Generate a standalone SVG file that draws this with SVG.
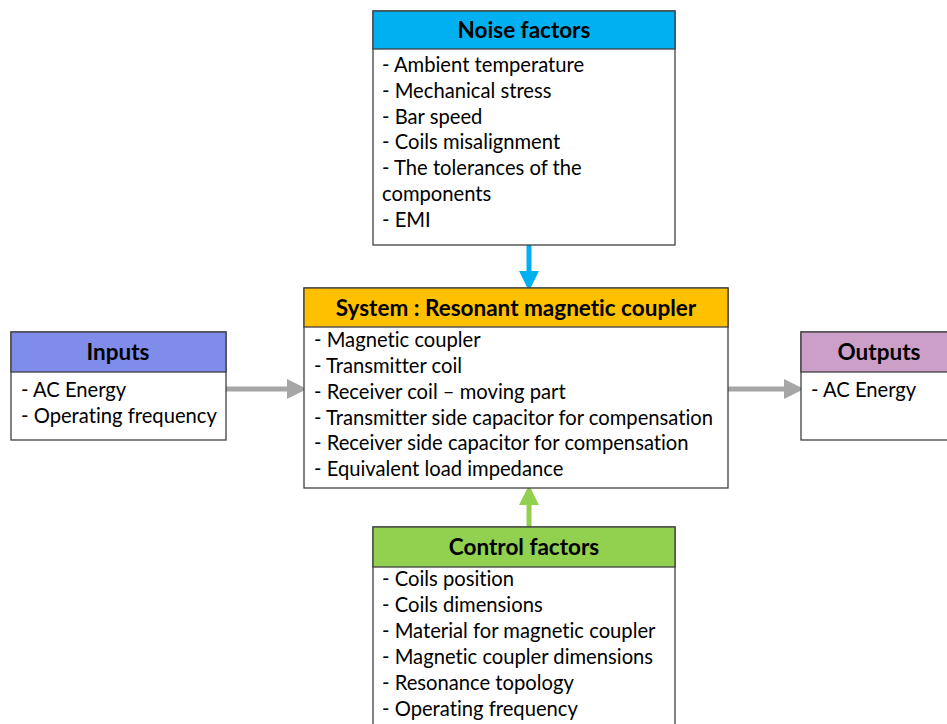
<svg xmlns="http://www.w3.org/2000/svg" width="947" height="724" viewBox="0 0 947 724">
<style>
.box{fill:#fff;stroke:#404040;stroke-width:1.3}
.hd{stroke:#404040;stroke-width:1.3}
text{font-variant-ligatures:none}
.t{font-family:Lato,"Open Sans",sans-serif;font-size:20.2px;fill:#000}
.h{font-family:Lato,"Open Sans",sans-serif;font-size:22.5px;font-weight:bold;fill:#000;text-anchor:middle}
</style>
<defs>
<marker id="ag" markerWidth="4" markerHeight="4" refX="3" refY="2" orient="auto" markerUnits="strokeWidth"><path d="M0,0 L4,2 L0,4 Z" fill="#A6A6A6"/></marker>
<marker id="ab" markerWidth="4" markerHeight="4" refX="3" refY="2" orient="auto" markerUnits="strokeWidth"><path d="M0,0 L4,2 L0,4 Z" fill="#00B0F0"/></marker>
<marker id="agr" markerWidth="4" markerHeight="4" refX="3" refY="2" orient="auto" markerUnits="strokeWidth"><path d="M0,0 L4,2 L0,4 Z" fill="#92D050"/></marker>
</defs>
<rect width="947" height="724" fill="#fff"/>
<g id="connectors">
<line x1="226" y1="389" x2="302" y2="389" stroke="#A6A6A6" stroke-width="5" marker-end="url(#ag)"/>
<line x1="728" y1="389" x2="799" y2="389" stroke="#A6A6A6" stroke-width="5" marker-end="url(#ag)"/>
<line x1="529" y1="245" x2="529" y2="286" stroke="#00B0F0" stroke-width="5" marker-end="url(#ab)"/>
<line x1="529" y1="527" x2="529" y2="490" stroke="#92D050" stroke-width="5" marker-end="url(#agr)"/>
</g>
<g id="noise">
<rect class="box" x="373" y="11" width="302" height="234"/>
<rect class="hd" x="373" y="11" width="302" height="38" fill="#00B0F0"/>
<text class="h" x="524" y="38">Noise factors</text>
<text class="t" x="382" y="72">- Ambient temperature</text>
<text class="t" x="382" y="98">- Mechanical stress</text>
<text class="t" x="382" y="124">- Bar speed</text>
<text class="t" x="382" y="149">- Coils misalignment</text>
<text class="t" x="382" y="175">- The tolerances of the</text>
<text class="t" x="382" y="201">components</text>
<text class="t" x="382" y="227">- EMI</text>
</g>
<g id="system">
<rect class="box" x="304" y="288" width="424" height="200"/>
<rect class="hd" x="304" y="288" width="424" height="39" fill="#FFC000"/>
<text class="h" x="516" y="316">System : Resonant magnetic coupler</text>
<text class="t" x="314" y="347">- Magnetic coupler</text>
<text class="t" x="314" y="373">- Transmitter coil</text>
<text class="t" x="314" y="399">- Receiver coil – moving part</text>
<text class="t" x="314" y="425">- Transmitter side capacitor for compensation</text>
<text class="t" x="314" y="450">- Receiver side capacitor for compensation</text>
<text class="t" x="314" y="476">- Equivalent load impedance</text>
</g>
<g id="inputs">
<rect class="box" x="11" y="332" width="215" height="108"/>
<rect class="hd" x="11" y="332" width="215" height="40" fill="#7F8CEA"/>
<text class="h" x="118" y="360">Inputs</text>
<text class="t" x="21" y="397">- AC Energy</text>
<text class="t" x="21" y="423">- Operating frequency</text>
</g>
<g id="outputs">
<rect class="box" x="801" y="332" width="160" height="108"/>
<rect class="hd" x="801" y="332" width="160" height="40" fill="#CC9FC9"/>
<text class="h" x="879" y="360">Outputs</text>
<text class="t" x="811" y="397">- AC Energy</text>
</g>
<g id="control">
<rect class="box" x="373" y="527" width="302" height="210"/>
<rect class="hd" x="373" y="527" width="302" height="40" fill="#92D050"/>
<text class="h" x="524" y="555">Control factors</text>
<text class="t" x="382" y="586">- Coils position</text>
<text class="t" x="382" y="612">- Coils dimensions</text>
<text class="t" x="382" y="638">- Material for magnetic coupler</text>
<text class="t" x="382" y="664">- Magnetic coupler dimensions</text>
<text class="t" x="382" y="690">- Resonance topology</text>
<text class="t" x="382" y="716">- Operating frequency</text>
</g>
</svg>
